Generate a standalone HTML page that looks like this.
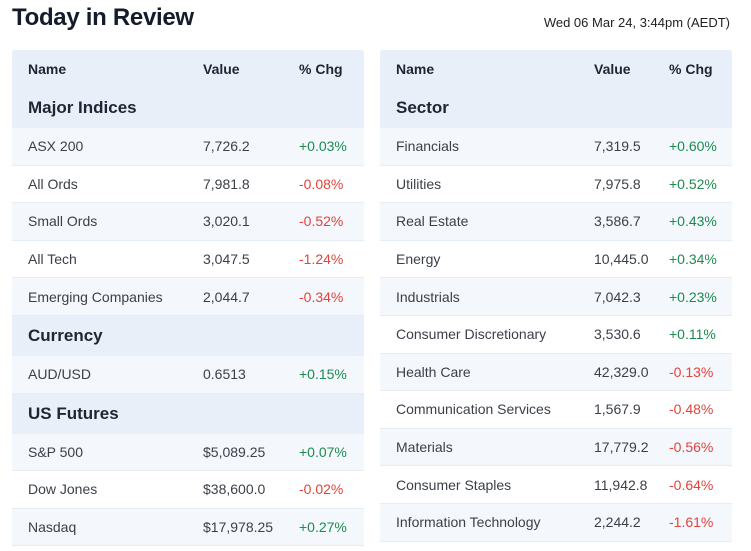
<!DOCTYPE html>
<html><head><style>
body{margin:0;width:751px;height:551px;background:#fff;font-family:"Liberation Sans",sans-serif;color:#1a2233;position:relative;overflow:hidden}
h1{position:absolute;left:12px;top:4px;margin:0;font-size:24px;font-weight:bold;color:#141b2b;letter-spacing:-0.3px}
.date{position:absolute;right:21px;top:15px;font-size:13px;color:#222}
.t{position:absolute;top:50px;width:352px;border-radius:3px 3px 0 0;overflow:hidden}
.r{position:relative;height:37.6px;border-bottom:1px solid #e4ecf5;box-sizing:border-box;font-size:14px;color:#3a3f48}
.r span{position:absolute;top:50%;transform:translateY(-50%);white-space:nowrap}
.s{background:#f4f8fc}
.h{background:#e8eff8;border-bottom:none;font-weight:bold;color:#1e2533}
.h.top{height:38px;font-size:14px}
.sec{background:#e8eff8;height:40px;font-size:17px;font-weight:bold;color:#1e2533;border-bottom:none}
.g{color:#1d8a4f}.d{color:#e0443a}
</style></head><body>
<h1>Today in Review</h1>
<div class="date">Wed 06 Mar 24, 3:44pm (AEDT)</div>

<div class="t" style="left:12px">
<div class="r h top"><span style="left:16px">Name</span><span style="left:191px">Value</span><span style="left:287px">% Chg</span></div>
<div class="r sec"><span style="left:16px">Major Indices</span></div>
<div class="r s"><span style="left:16px">ASX 200</span><span style="left:191px">7,726.2</span><span class="g" style="left:287px">+0.03%</span></div>
<div class="r"><span style="left:16px">All Ords</span><span style="left:191px">7,981.8</span><span class="d" style="left:287px">-0.08%</span></div>
<div class="r s"><span style="left:16px">Small Ords</span><span style="left:191px">3,020.1</span><span class="d" style="left:287px">-0.52%</span></div>
<div class="r"><span style="left:16px">All Tech</span><span style="left:191px">3,047.5</span><span class="d" style="left:287px">-1.24%</span></div>
<div class="r s"><span style="left:16px">Emerging Companies</span><span style="left:191px">2,044.7</span><span class="d" style="left:287px">-0.34%</span></div>
<div class="r sec"><span style="left:16px">Currency</span></div>
<div class="r s"><span style="left:16px">AUD/USD</span><span style="left:191px">0.6513</span><span class="g" style="left:287px">+0.15%</span></div>
<div class="r sec"><span style="left:16px">US Futures</span></div>
<div class="r s"><span style="left:16px">S&amp;P 500</span><span style="left:191px">$5,089.25</span><span class="g" style="left:287px">+0.07%</span></div>
<div class="r"><span style="left:16px">Dow Jones</span><span style="left:191px">$38,600.0</span><span class="d" style="left:287px">-0.02%</span></div>
<div class="r s"><span style="left:16px">Nasdaq</span><span style="left:191px">$17,978.25</span><span class="g" style="left:287px">+0.27%</span></div>
</div>

<div class="t" style="left:380px">
<div class="r h top"><span style="left:16px">Name</span><span style="left:214px">Value</span><span style="left:289px">% Chg</span></div>
<div class="r sec"><span style="left:16px">Sector</span></div>
<div class="r s"><span style="left:16px">Financials</span><span style="left:214px">7,319.5</span><span class="g" style="left:289px">+0.60%</span></div>
<div class="r"><span style="left:16px">Utilities</span><span style="left:214px">7,975.8</span><span class="g" style="left:289px">+0.52%</span></div>
<div class="r s"><span style="left:16px">Real Estate</span><span style="left:214px">3,586.7</span><span class="g" style="left:289px">+0.43%</span></div>
<div class="r"><span style="left:16px">Energy</span><span style="left:214px">10,445.0</span><span class="g" style="left:289px">+0.34%</span></div>
<div class="r s"><span style="left:16px">Industrials</span><span style="left:214px">7,042.3</span><span class="g" style="left:289px">+0.23%</span></div>
<div class="r"><span style="left:16px">Consumer Discretionary</span><span style="left:214px">3,530.6</span><span class="g" style="left:289px">+0.11%</span></div>
<div class="r s"><span style="left:16px">Health Care</span><span style="left:214px">42,329.0</span><span class="d" style="left:289px">-0.13%</span></div>
<div class="r"><span style="left:16px">Communication Services</span><span style="left:214px">1,567.9</span><span class="d" style="left:289px">-0.48%</span></div>
<div class="r s"><span style="left:16px">Materials</span><span style="left:214px">17,779.2</span><span class="d" style="left:289px">-0.56%</span></div>
<div class="r"><span style="left:16px">Consumer Staples</span><span style="left:214px">11,942.8</span><span class="d" style="left:289px">-0.64%</span></div>
<div class="r s"><span style="left:16px">Information Technology</span><span style="left:214px">2,244.2</span><span class="d" style="left:289px">-1.61%</span></div>
</div>
</body></html>
